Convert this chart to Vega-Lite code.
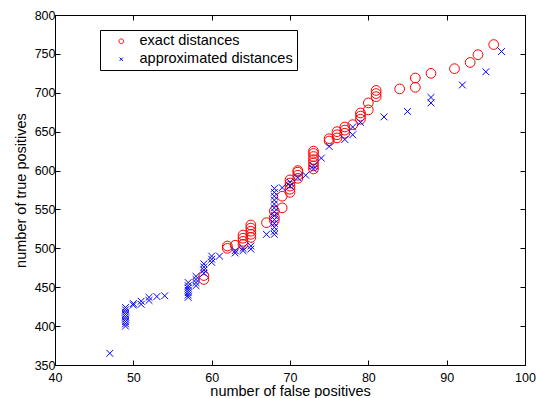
{
  "$schema": "https://vega.github.io/schema/vega-lite/v6.json",
  "width": 470,
  "height": 350,
  "autosize": "none",
  "padding": {"left": 55, "top": 15, "right": 11, "bottom": 33},
  "background": "white",
  "config": {
    "view": {"stroke": "black", "strokeWidth": 1},
    "font": "Liberation Sans",
    "axis": {
      "grid": false,
      "domainColor": "black",
      "tickColor": "black",
      "labelColor": "black",
      "titleColor": "black",
      "labelFont": "Liberation Sans",
      "titleFont": "Liberation Sans",
      "labelFontSize": 13,
      "titleFontSize": 14.5,
      "titleFontWeight": "normal",
      "tickSize": -5,
      "labelPadding": 5,
      "labelFlush": false,
      "labelOverlap": false
    }
  },
  "datasets": {
    "pts": [
      {"fp": 59, "tp": 460, "method": "exact distances"},
      {"fp": 59, "tp": 465, "method": "exact distances"},
      {"fp": 62, "tp": 500, "method": "exact distances"},
      {"fp": 62, "tp": 503, "method": "exact distances"},
      {"fp": 63, "tp": 504, "method": "exact distances"},
      {"fp": 64, "tp": 505, "method": "exact distances"},
      {"fp": 64, "tp": 509, "method": "exact distances"},
      {"fp": 64, "tp": 513, "method": "exact distances"},
      {"fp": 64, "tp": 517, "method": "exact distances"},
      {"fp": 65, "tp": 514, "method": "exact distances"},
      {"fp": 65, "tp": 518, "method": "exact distances"},
      {"fp": 65, "tp": 522, "method": "exact distances"},
      {"fp": 65, "tp": 526, "method": "exact distances"},
      {"fp": 65, "tp": 530, "method": "exact distances"},
      {"fp": 67, "tp": 533, "method": "exact distances"},
      {"fp": 68, "tp": 536, "method": "exact distances"},
      {"fp": 68, "tp": 540, "method": "exact distances"},
      {"fp": 68, "tp": 548, "method": "exact distances"},
      {"fp": 69, "tp": 552, "method": "exact distances"},
      {"fp": 69, "tp": 567, "method": "exact distances"},
      {"fp": 70, "tp": 572, "method": "exact distances"},
      {"fp": 70, "tp": 576, "method": "exact distances"},
      {"fp": 70, "tp": 580, "method": "exact distances"},
      {"fp": 70, "tp": 584, "method": "exact distances"},
      {"fp": 70, "tp": 588, "method": "exact distances"},
      {"fp": 71, "tp": 590, "method": "exact distances"},
      {"fp": 71, "tp": 594, "method": "exact distances"},
      {"fp": 71, "tp": 598, "method": "exact distances"},
      {"fp": 71, "tp": 600, "method": "exact distances"},
      {"fp": 73, "tp": 602, "method": "exact distances"},
      {"fp": 73, "tp": 606, "method": "exact distances"},
      {"fp": 73, "tp": 610, "method": "exact distances"},
      {"fp": 73, "tp": 614, "method": "exact distances"},
      {"fp": 73, "tp": 618, "method": "exact distances"},
      {"fp": 73, "tp": 622, "method": "exact distances"},
      {"fp": 73, "tp": 625, "method": "exact distances"},
      {"fp": 75, "tp": 638, "method": "exact distances"},
      {"fp": 75, "tp": 641, "method": "exact distances"},
      {"fp": 76, "tp": 642, "method": "exact distances"},
      {"fp": 76, "tp": 646, "method": "exact distances"},
      {"fp": 76, "tp": 650, "method": "exact distances"},
      {"fp": 77, "tp": 648, "method": "exact distances"},
      {"fp": 77, "tp": 652, "method": "exact distances"},
      {"fp": 77, "tp": 656, "method": "exact distances"},
      {"fp": 78, "tp": 659, "method": "exact distances"},
      {"fp": 79, "tp": 666, "method": "exact distances"},
      {"fp": 79, "tp": 670, "method": "exact distances"},
      {"fp": 79, "tp": 674, "method": "exact distances"},
      {"fp": 80, "tp": 678, "method": "exact distances"},
      {"fp": 80, "tp": 687, "method": "exact distances"},
      {"fp": 81, "tp": 695, "method": "exact distances"},
      {"fp": 81, "tp": 699, "method": "exact distances"},
      {"fp": 81, "tp": 703, "method": "exact distances"},
      {"fp": 84, "tp": 705, "method": "exact distances"},
      {"fp": 86, "tp": 707, "method": "exact distances"},
      {"fp": 86, "tp": 719, "method": "exact distances"},
      {"fp": 88, "tp": 725, "method": "exact distances"},
      {"fp": 91, "tp": 731, "method": "exact distances"},
      {"fp": 93, "tp": 739, "method": "exact distances"},
      {"fp": 94, "tp": 749, "method": "exact distances"},
      {"fp": 96, "tp": 762, "method": "exact distances"},
      {"fp": 47, "tp": 365, "method": "approximated distances"},
      {"fp": 49, "tp": 400, "method": "approximated distances"},
      {"fp": 49, "tp": 403, "method": "approximated distances"},
      {"fp": 49, "tp": 406, "method": "approximated distances"},
      {"fp": 49, "tp": 409, "method": "approximated distances"},
      {"fp": 49, "tp": 412, "method": "approximated distances"},
      {"fp": 49, "tp": 415, "method": "approximated distances"},
      {"fp": 49, "tp": 418, "method": "approximated distances"},
      {"fp": 49, "tp": 421, "method": "approximated distances"},
      {"fp": 49, "tp": 424, "method": "approximated distances"},
      {"fp": 50, "tp": 427, "method": "approximated distances"},
      {"fp": 50, "tp": 429, "method": "approximated distances"},
      {"fp": 51, "tp": 428, "method": "approximated distances"},
      {"fp": 51, "tp": 432, "method": "approximated distances"},
      {"fp": 52, "tp": 433, "method": "approximated distances"},
      {"fp": 52, "tp": 437, "method": "approximated distances"},
      {"fp": 53, "tp": 438, "method": "approximated distances"},
      {"fp": 54, "tp": 439, "method": "approximated distances"},
      {"fp": 57, "tp": 437, "method": "approximated distances"},
      {"fp": 57, "tp": 440, "method": "approximated distances"},
      {"fp": 57, "tp": 443, "method": "approximated distances"},
      {"fp": 57, "tp": 446, "method": "approximated distances"},
      {"fp": 57, "tp": 449, "method": "approximated distances"},
      {"fp": 57, "tp": 452, "method": "approximated distances"},
      {"fp": 57, "tp": 456, "method": "approximated distances"},
      {"fp": 58, "tp": 452, "method": "approximated distances"},
      {"fp": 58, "tp": 456, "method": "approximated distances"},
      {"fp": 58, "tp": 460, "method": "approximated distances"},
      {"fp": 58, "tp": 464, "method": "approximated distances"},
      {"fp": 59, "tp": 468, "method": "approximated distances"},
      {"fp": 59, "tp": 472, "method": "approximated distances"},
      {"fp": 59, "tp": 476, "method": "approximated distances"},
      {"fp": 59, "tp": 480, "method": "approximated distances"},
      {"fp": 60, "tp": 482, "method": "approximated distances"},
      {"fp": 60, "tp": 486, "method": "approximated distances"},
      {"fp": 60, "tp": 490, "method": "approximated distances"},
      {"fp": 61, "tp": 490, "method": "approximated distances"},
      {"fp": 63, "tp": 494, "method": "approximated distances"},
      {"fp": 63, "tp": 497, "method": "approximated distances"},
      {"fp": 64, "tp": 497, "method": "approximated distances"},
      {"fp": 64, "tp": 500, "method": "approximated distances"},
      {"fp": 65, "tp": 499, "method": "approximated distances"},
      {"fp": 65, "tp": 503, "method": "approximated distances"},
      {"fp": 67, "tp": 518, "method": "approximated distances"},
      {"fp": 68, "tp": 518, "method": "approximated distances"},
      {"fp": 68, "tp": 522, "method": "approximated distances"},
      {"fp": 68, "tp": 527, "method": "approximated distances"},
      {"fp": 68, "tp": 532, "method": "approximated distances"},
      {"fp": 68, "tp": 537, "method": "approximated distances"},
      {"fp": 68, "tp": 542, "method": "approximated distances"},
      {"fp": 68, "tp": 547, "method": "approximated distances"},
      {"fp": 68, "tp": 552, "method": "approximated distances"},
      {"fp": 68, "tp": 557, "method": "approximated distances"},
      {"fp": 68, "tp": 562, "method": "approximated distances"},
      {"fp": 68, "tp": 567, "method": "approximated distances"},
      {"fp": 68, "tp": 572, "method": "approximated distances"},
      {"fp": 68, "tp": 577, "method": "approximated distances"},
      {"fp": 69, "tp": 578, "method": "approximated distances"},
      {"fp": 70, "tp": 580, "method": "approximated distances"},
      {"fp": 70, "tp": 585, "method": "approximated distances"},
      {"fp": 71, "tp": 591, "method": "approximated distances"},
      {"fp": 72, "tp": 594, "method": "approximated distances"},
      {"fp": 73, "tp": 602, "method": "approximated distances"},
      {"fp": 73, "tp": 606, "method": "approximated distances"},
      {"fp": 74, "tp": 616, "method": "approximated distances"},
      {"fp": 75, "tp": 631, "method": "approximated distances"},
      {"fp": 77, "tp": 640, "method": "approximated distances"},
      {"fp": 78, "tp": 646, "method": "approximated distances"},
      {"fp": 78, "tp": 656, "method": "approximated distances"},
      {"fp": 79, "tp": 662, "method": "approximated distances"},
      {"fp": 82, "tp": 669, "method": "approximated distances"},
      {"fp": 85, "tp": 676, "method": "approximated distances"},
      {"fp": 88, "tp": 687, "method": "approximated distances"},
      {"fp": 88, "tp": 694, "method": "approximated distances"},
      {"fp": 92, "tp": 710, "method": "approximated distances"},
      {"fp": 95, "tp": 727, "method": "approximated distances"},
      {"fp": 97, "tp": 753, "method": "approximated distances"}
    ]
  },
  "data": {"name": "pts"},
  "layer": [
    {
      "mark": {"type": "point", "filled": false, "strokeWidth": 1, "size": 95, "opacity": 1},
      "encoding": {
        "x": {
          "field": "fp", "type": "quantitative",
          "scale": {"domain": [40, 100], "nice": false, "zero": false},
          "axis": {"values": [40, 50, 60, 70, 80, 90, 100], "title": "number of false positives", "titlePadding": 1, "labelPadding": 11, "labelFontSize": 12.5, "orient": "bottom"}
        },
        "y": {
          "field": "tp", "type": "quantitative",
          "scale": {"domain": [350, 800], "nice": false, "zero": false},
          "axis": {"values": [350, 400, 450, 500, 550, 600, 650, 700, 750, 800], "title": "number of true positives", "titlePadding": 6, "labelFontSize": 12.5, "orient": "left"}
        },
        "color": {
          "field": "method", "type": "nominal",
          "scale": {"domain": ["exact distances", "approximated distances"], "range": ["#ff0000", "#0000ff"]},
          "legend": {
            "title": null,
            "orient": "none",
            "legendX": 45,
            "legendY": 15,
            "strokeColor": "black",
            "fillColor": "white",
            "padding": 4,
            "symbolSize": 22,
            "symbolStrokeWidth": 1,
            "symbolOffset": 10,
            "labelOffset": 11,
            "labelFont": "Liberation Sans",
            "labelFontSize": 14.5,
            "labelColor": "black",
            "rowPadding": 3,
            "labelLimit": 400
          }
        },
        "shape": {
          "field": "method", "type": "nominal",
          "scale": {"domain": ["exact distances", "approximated distances"], "range": ["M-1,0A1,1 0 1,0 1,0A1,1 0 1,0 -1,0Z", "M-0.7,-0.7L0.7,0.7M0.7,-0.7L-0.7,0.7"]}
        }
      }
    },
    {
      "mark": {"type": "point", "opacity": 0},
      "encoding": {
        "x": {
          "field": "fp", "type": "quantitative",
          "scale": {"domain": [40, 100], "nice": false, "zero": false},
          "axis": {"values": [40, 50, 60, 70, 80, 90, 100], "title": null, "labels": false, "orient": "top"}
        },
        "y": {
          "field": "tp", "type": "quantitative",
          "scale": {"domain": [350, 800], "nice": false, "zero": false},
          "axis": {"values": [350, 400, 450, 500, 550, 600, 650, 700, 750, 800], "title": null, "labels": false, "orient": "right"}
        }
      }
    }
  ],
  "resolve": {"scale": {"x": "independent", "y": "independent"}}
}
